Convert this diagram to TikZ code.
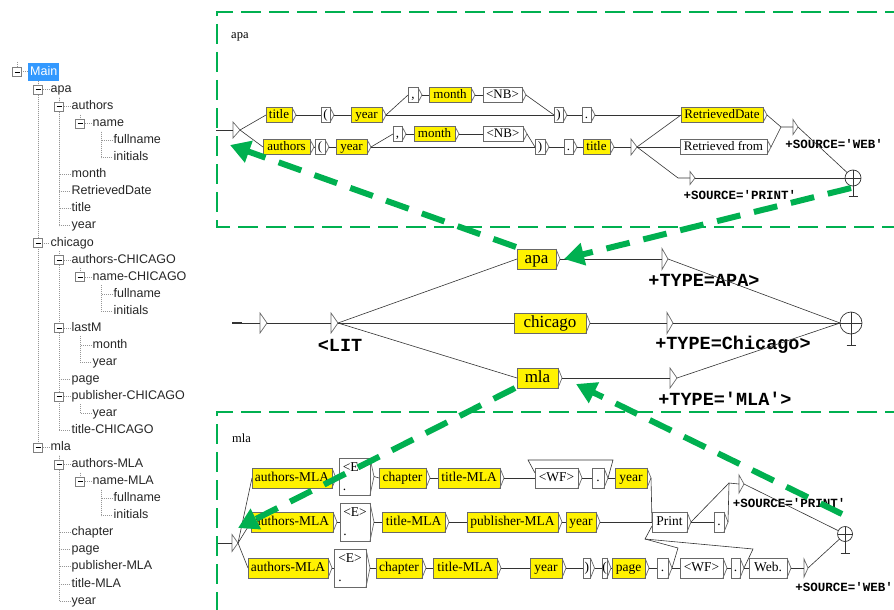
\documentclass[tikz,border=0pt]{standalone}
\usepackage{fontspec}
\setmainfont{Liberation Serif}
\setmonofont{Liberation Mono}
\newfontfamily\treefont{Liberation Sans}
\usetikzlibrary{arrows.meta}
\definecolor{ggreen}{RGB}{0,176,80}
\definecolor{selblue}{RGB}{51,153,255}
\definecolor{boxgray}{RGB}{105,105,105}
\definecolor{treegray}{RGB}{150,150,150}

\tikzset{
  gl/.style={draw=black!80, line width=0.6pt},
  chev/.style={draw=boxgray, line width=0.7pt, line join=miter},
  ubx/.style={draw=boxgray, line width=0.7pt, rectangle, anchor=west, inner xsep=1.5pt, inner ysep=0pt, outer sep=0pt},
  yb/.style={fill=yellow},
  wb/.style={fill=white},
  asub/.style={minimum height=15pt, text height=9pt, text depth=3pt, font=\fontsize{13}{14}\selectfont},
  msub/.style={minimum height=20pt, text height=12pt, text depth=4pt, font=\fontsize{17}{18}\selectfont},
  lsub/.style={minimum height=20pt, text height=9.5pt, text depth=3pt, font=\fontsize{13.5}{15}\selectfont},
  trin/.style={rectangle, inner sep=0pt, outer sep=0pt, anchor=west},
  outl/.style={font=\ttfamily\bfseries\fontsize{18.5}{20}\selectfont, inner sep=0pt},
  outs/.style={font=\ttfamily\bfseries\fontsize{12.5}{14}\selectfont, inner sep=0pt},
  tl/.style={draw=treegray, line width=1pt, dash pattern=on 1pt off 1pt},
  tlab/.style={anchor=west, inner xsep=1.5pt, inner ysep=1pt, text height=9pt, text depth=3pt, font=\treefont\fontsize{12.5}{14}\selectfont, text=black!85},
  expd/.style={rectangle, draw=gray, fill=white, line width=0.8pt, minimum size=9pt, inner sep=0pt},
  gframe/.style={draw=ggreen, line width=2.4pt, dash pattern=on 20pt off 8pt},
  garrow/.style={draw=ggreen, line width=6pt, dash pattern=on 24pt off 14pt, -{Triangle[length=20pt,width=22pt]}},
  flab/.style={anchor=west, inner sep=0pt, font=\fontsize{12.5}{14}\selectfont},
}

% box with an output chevron: [styles]{name}{left}{right}{y}{text}
\newcommand\ub[6][]{%
  \node[ubx,#1,minimum width={(#4)-(#3)}] (#2) at (#3,#5) {#6};
  \draw[chev] (#2.north east) -- ([xshift=4pt]#2.east) coordinate (#2-o) -- (#2.south east);
}
% two-line box <E> / . : {name}{left}{right}{top}{bottom}
\newcommand\ebox[5]{%
  \node[ubx,wb,align=left,inner xsep=0pt,minimum width={(#3)-(#2)},minimum height={(#5)-(#4)},font=\fontsize{13.5}{19}\selectfont] (#1) at (#2,{(#4+#5)/2}) {<E>\\.};
  \draw[chev] (#1.north east) -- ([xshift=4pt]#1.east) coordinate (#1-o) -- (#1.south east);
}
% empty transition box drawn as a triangle: {name}{left}{right}{y}{height}
\newcommand\tri[5]{%
  \node[trin,minimum width={(#3)-(#2)},minimum height={#5}] (#1) at (#2,#4) {};
  \draw[chev,fill=white] (#1.north west) -- (#1.east) -- (#1.south west) -- cycle;
}
% final state: {name}{x}{y}{radius}{stem}
\newcommand\fin[5]{%
  \node[circle,draw=black!80,line width=0.7pt,minimum size={2*#4},inner sep=0pt,outer sep=0pt] (#1) at (#2,#3) {};
  \draw[draw=black!80,line width=0.7pt] (#1.west) -- (#1.east) (#1.north) -- ([yshift=-#5pt]#1.center) coordinate (#1-s)
    ([xshift=-4.5pt]#1-s) -- ([xshift=4.5pt]#1-s);
}

\def\treelist{1/1/apa/0/1, 2/2/authors/1/1, 3/3/name/2/1, 4/4/fullname/3/0, 5/4/initials/3/0,
  6/2/month/1/0, 7/2/RetrievedDate/1/0, 8/2/title/1/0, 9/2/year/1/0, 10/1/chicago/0/1,
  11/2/authors-CHICAGO/10/1, 12/3/name-CHICAGO/11/1, 13/4/fullname/12/0, 14/4/initials/12/0,
  15/2/lastM/10/1, 16/3/month/15/0, 17/3/year/15/0, 18/2/page/10/0, 19/2/publisher-CHICAGO/10/1,
  20/3/year/19/0, 21/2/title-CHICAGO/10/0, 22/1/mla/0/1, 23/2/authors-MLA/22/1, 24/3/name-MLA/23/1,
  25/4/fullname/24/0, 26/4/initials/24/0, 27/2/chapter/22/0, 28/2/page/22/0, 29/2/publisher-MLA/22/0,
  30/2/title-MLA/22/0, 31/2/year/22/0}

\begin{document}
\begin{tikzpicture}[x=1pt,y=-1pt]
\useasboundingbox (0,0) rectangle (894,610);
\clip (0,0) rectangle (894,610);

% ---------------- tree view ----------------
\node[tlab,fill=selblue,text=white,inner xsep=2pt,minimum height=18pt] (tr0) at (28,72) {Main};
\foreach \i/\l/\t/\p/\e in \treelist {
  \node[tlab] (tr\i) at ({28+21*\l},{72.5+17.05*\i}) {\t};
}
\draw[tl] (17,62) -- (17,72) -- (tr0.west);
\foreach \i/\l/\t/\p/\e in \treelist {
  \draw[tl] ({17+21*\l},{72.5+17.05*\p+8}) |- (tr\i.west);
}
\node[expd] (ex0) at (17,72) {};
\draw[line width=0.8pt] ([xshift=-2.5pt]ex0.center) -- ([xshift=2.5pt]ex0.center);
\foreach \i/\l/\t/\p/\e in \treelist {
  \ifnum\e=1\relax
    \node[expd] (ex\i) at ({17+21*\l},{72.5+17.05*\i}) {};
    \draw[line width=0.8pt] ([xshift=-2.5pt]ex\i.center) -- ([xshift=2.5pt]ex\i.center);
  \fi
}

% ---------------- frames of the two sub-graphs ----------------
\draw[gframe] (905,12) -- (217,12) -- (217,227) -- (905,227);
\draw[gframe] (905,412) -- (217,412) -- (217,625);
\node[flab] (fl-apa) at (231,37) {apa};
\node[flab] (fl-mla) at (232,438) {mla};

% ---------------- apa sub-graph ----------------
\coordinate (a-entry) at (216,130);
\tri{a-t0}{233}{240}{130}{16}
\ub[asub,yb]{a-title}{266}{292}{115}{title}
\ub[asub,wb]{a-lp1}{321}{330}{115}{(}
\ub[asub,yb]{a-year1}{351}{382}{115}{year}
\ub[asub,wb]{a-cm1}{408}{418}{95}{,}
\ub[asub,yb]{a-month1}{429}{471}{95}{month}
\ub[asub,wb]{a-nb1}{483}{522}{95}{<NB>}
\ub[asub,wb]{a-rp1}{554}{563}{115}{)}
\ub[asub,wb]{a-dot1}{582}{591}{115}{.}
\ub[asub,yb]{a-retd}{681}{763}{115}{RetrievedDate}
\ub[asub,yb]{a-auth}{263}{310}{147}{authors}
\ub[asub,wb]{a-lp2}{315}{325}{147}{(}
\ub[asub,yb]{a-year2}{336}{367}{147}{year}
\ub[asub,wb]{a-cm2}{393}{402}{134}{,}
\ub[asub,yb]{a-month2}{414}{455}{134}{month}
\ub[asub,wb]{a-nb2}{483}{523}{134}{<NB>}
\ub[asub,wb]{a-rp2}{535}{545}{147}{)}
\ub[asub,wb]{a-dot2}{564}{573}{147}{.}
\ub[asub,yb]{a-title2}{583}{610}{147}{title}
\tri{a-t1}{631}{637}{147}{16}
\ub[asub,wb]{a-retf}{680}{767}{147}{Retrieved from}
\tri{a-t2}{793}{798}{127}{15}
\tri{a-t3}{690}{695}{178}{13}
\fin{a-fin}{853}{178}{8}{18}
\coordinate (a-k1) at (678,178);
\coordinate (a-j1) at (781,127);
\node[outs] (a-lweb) at (834,144) {+SOURCE=\textquotesingle WEB\textquotesingle};
\node[outs] (a-lprint) at (740,195) {+SOURCE=\textquotesingle PRINT\textquotesingle};

\draw[gl] (a-entry) -- (a-t0.west);
\draw[gl] (a-t0.east) -- (a-title.west);
\draw[gl] (a-t0.east) -- (a-auth.west);
\draw[gl] (a-title-o) -- (a-lp1.west);
\draw[gl] (a-lp1-o) -- (a-year1.west);
\draw[gl] (a-year1-o) -- (a-cm1.west);
\draw[gl] (a-year1-o) -- (a-rp1.west);
\draw[gl] (a-cm1-o) -- (a-month1.west);
\draw[gl] (a-month1-o) -- (a-nb1.west);
\draw[gl] (a-nb1-o) -- (a-rp1.west);
\draw[gl] (a-rp1-o) -- (a-dot1.west);
\draw[gl] (a-dot1-o) -- (a-retd.west);
\draw[gl] (a-auth-o) -- (a-lp2.west);
\draw[gl] (a-lp2-o) -- (a-year2.west);
\draw[gl] (a-year2-o) -- (a-cm2.west);
\draw[gl] (a-year2-o) -- (a-rp2.west);
\draw[gl] (a-cm2-o) -- (a-month2.west);
\draw[gl] (a-month2-o) -- (a-nb2.west);
\draw[gl] (a-nb2-o) -- (a-rp2.west);
\draw[gl] (a-rp2-o) -- (a-dot2.west);
\draw[gl] (a-dot2-o) -- (a-title2.west);
\draw[gl] (a-title2-o) -- (a-t1.west);
\draw[gl] (a-t1.east) -- (a-retd.west);
\draw[gl] (a-t1.east) -- (a-retf.west);
\draw[gl] (a-t1.east) -- (a-k1) -- (a-t3.west);
\draw[gl] (a-retd-o) -- (a-j1);
\draw[gl] (a-retf-o) -- (a-j1) -- (a-t2.west);
\draw[gl] (a-t2.east) -- (a-fin);
\draw[gl] (a-t3.east) -- (a-fin.west);

% ---------------- main graph ----------------
\coordinate (m-entry) at (232,323);
\draw[line width=1.4pt,black!80] (m-entry) -- ++(10,0);
\tri{m-t0}{260}{267}{323}{20}
\tri{m-t1}{331}{338}{323}{20}
\node[outl] (m-llit) at (340,345) {<LIT};
\ub[msub,yb]{m-apa}{517}{556}{259}{apa}
\ub[msub,yb]{m-chi}{514}{586}{323}{chicago}
\ub[msub,yb]{m-mla}{517}{558}{378}{mla}
\tri{m-ta}{662}{668}{259}{21}
\tri{m-tc}{667}{673}{323}{21}
\tri{m-tm}{670}{677}{378}{20}
\node[outl] (m-lapa) at (704,280) {+TYPE=APA>};
\node[outl] (m-lchi) at (733,345) {+TYPE=Chicago>};
\node[outl] (m-lmla) at (725,399) {+TYPE=\textquotesingle MLA\textquotesingle>};
\fin{m-fin}{851}{323}{11}{22}

\draw[gl] (m-entry) -- (m-t0.west);
\draw[gl] (m-t0.east) -- (m-t1.west);
\draw[gl] (m-t1.east) -- (m-apa.west);
\draw[gl] (m-t1.east) -- (m-chi.west);
\draw[gl] (m-t1.east) -- (m-mla.west);
\draw[gl] (m-apa-o) -- (m-ta.west);
\draw[gl] (m-chi-o) -- (m-tc.west);
\draw[gl] (m-mla-o) -- (m-tm.west);
\draw[gl] (m-ta.east) -- (m-fin.west);
\draw[gl] (m-tc.east) -- (m-fin.west);
\draw[gl] (m-tm.east) -- (m-fin.west);

% ---------------- mla sub-graph ----------------
\coordinate (l-entry) at (218,543);
\tri{l-t0}{232}{238}{543}{17}
% first line
\ub[lsub,yb]{l-authA}{252}{332}{478}{authors-MLA}
\ebox{l-eA}{339}{370}{458}{495}
\ub[lsub,yb]{l-chapA}{379}{426}{478}{chapter}
\ub[lsub,yb]{l-titA}{438}{500}{478}{title-MLA}
\ub[lsub,wb]{l-wfA}{535}{578}{478}{<WF>}
\ub[lsub,wb]{l-dotA}{592}{604}{478}{.}
\ub[lsub,yb]{l-yearA}{615}{647}{478}{year}
% second line
\ub[lsub,yb]{l-authB}{251}{333}{522}{authors-MLA}
\ebox{l-eB}{340}{370}{503}{541}
\ub[lsub,yb]{l-titB}{382}{445}{522}{title-MLA}
\ub[lsub,yb]{l-pubB}{467}{558}{522}{publisher-MLA}
\ub[lsub,yb]{l-yearB}{566}{596}{522}{year}
\ub[lsub,wb]{l-print}{652}{687}{522}{Print}
\ub[lsub,wb]{l-dotB}{714}{724}{522}{.}
\tri{l-tP}{739}{744}{484}{18}
% third line
\ub[lsub,yb]{l-authC}{248}{328}{568}{authors-MLA}
\ebox{l-eC}{334}{366}{549}{587}
\ub[lsub,yb]{l-chapC}{376}{422}{568}{chapter}
\ub[lsub,yb]{l-titC}{433}{497}{568}{title-MLA}
\ub[lsub,yb]{l-yearC}{530}{562}{568}{year}
\ub[lsub,wb]{l-rpC}{583}{590}{568}{)}
\ub[lsub,wb,inner xsep=0pt]{l-lpC}{602}{607}{568}{(}
\ub[lsub,yb]{l-pageC}{612}{645}{568}{page}
\ub[lsub,wb]{l-dotC1}{657}{668}{568}{.}
\ub[lsub,wb]{l-wfC}{680}{723}{568}{<WF>}
\ub[lsub,wb]{l-dotC2}{731}{740}{568}{.}
\ub[lsub,wb]{l-web}{749}{787}{568}{Web.}
\tri{l-tW}{804}{808}{568}{18}
\fin{l-fin}{845}{534}{7.5}{19}
\node[outs] (l-lprint) at (789,503) {+SOURCE=\textquotesingle PRINT\textquotesingle};
\node[outs] (l-lweb) at (844,587) {+SOURCE=\textquotesingle WEB\textquotesingle};
\coordinate (l-loopR) at (613,460);
\coordinate (l-loopL) at (528,460);
\coordinate (l-jP) at (729,483);
\coordinate (l-b1) at (678,548);
\coordinate (l-b2) at (645,539);
\coordinate (l-b3) at (753,549);

\draw[gl] (l-entry) -- (l-t0.west);
\draw[gl] (l-t0.east) -- (l-authA.west);
\draw[gl] (l-t0.east) -- (l-authB.west);
\draw[gl] (l-t0.east) -- (l-authC.west);
\draw[gl] (l-authA-o) -- (l-eA.west);
\draw[gl] (l-eA-o) -- (l-chapA.west);
\draw[gl] (l-chapA-o) -- (l-titA.west);
\draw[gl] (l-titA-o) -- (l-wfA.west);
\draw[gl] (l-wfA-o) -- (l-dotA.west);
\draw[gl] (l-dotA-o) -- (l-yearA.west);
\draw[gl] (l-dotA-o) -- (l-loopR) -- (l-loopL) -- ([yshift=5pt]l-wfA.west);
\draw[gl] (l-yearA-o) -- (l-print.west);
\draw[gl] (l-authB-o) -- (l-eB.west);
\draw[gl] (l-eB-o) -- (l-titB.west);
\draw[gl] (l-titB-o) -- (l-pubB.west);
\draw[gl] (l-pubB-o) -- (l-yearB.west);
\draw[gl] (l-yearB-o) -- (l-print.west);
\draw[gl] (l-print-o) -- (l-dotB.west);
\draw[gl] (l-print-o) -- (l-jP);
\draw[gl] (l-dotB-o) -- (l-jP) -- (l-tP.west);
\draw[gl] (l-tP.east) -- (l-fin);
\draw[gl] (l-authC-o) -- (l-eC.west);
\draw[gl] (l-eC-o) -- (l-chapC.west);
\draw[gl] (l-chapC-o) -- (l-titC.west);
\draw[gl] (l-titC-o) -- (l-yearC.west);
\draw[gl] (l-yearC-o) -- (l-rpC.west);
\draw[gl] (l-rpC-o) -- (l-lpC.west);
\draw[gl] (l-lpC-o) -- (l-pageC.west);
\draw[gl] (l-pageC-o) -- (l-dotC1.west);
\draw[gl] (l-dotC1-o) -- (l-wfC.west);
\draw[gl] (l-wfC-o) -- (l-dotC2.west);
\draw[gl] (l-dotC2-o) -- (l-web.west);
\draw[gl] (l-web-o) -- (l-tW.west);
\draw[gl] (l-tW.east) -- (l-fin);
\draw[gl] (l-dotC1-o) -- (l-b1) -- (l-b2) -- ([yshift=-4pt]l-print.west);
\draw[gl] (l-dotC2-o) -- (l-b3) -- (l-b2);

% ---------------- green call arrows ----------------
\coordinate (g1s) at (851,188);
\coordinate (g2s) at (516,247);
\coordinate (g3s) at (842,514);
\coordinate (g4s) at (515,388);
\draw[garrow] (g1s) -- ([xshift=4pt]m-apa-o);
\draw[garrow] (g2s) -- ([xshift=-10pt,yshift=-15pt]a-t0.east);
\draw[garrow] (g3s) -- ([xshift=14pt,yshift=-6pt]m-mla-o);
\draw[garrow] (g4s) -- ([yshift=15pt]l-t0.east);
\end{tikzpicture}
\end{document}
